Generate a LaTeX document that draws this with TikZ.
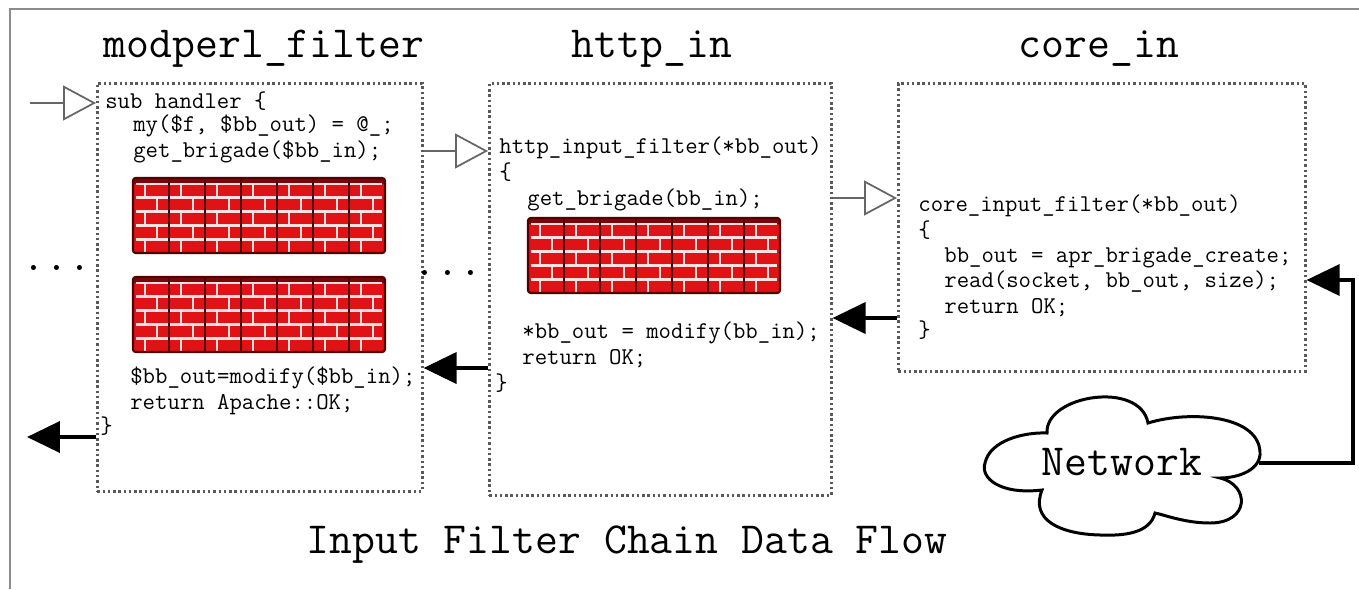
\documentclass[tikz,border=0pt]{standalone}
\usepackage{fontspec}
\usetikzlibrary{arrows.meta,positioning}

\definecolor{brick}{RGB}{224,18,22}
\definecolor{mortar}{RGB}{255,224,224}
\definecolor{brickdark}{RGB}{80,0,0}

\tikzset{
  filterbox/.style={draw=black!65, line width=1.5pt, dash pattern=on 1.4pt off 1.6pt,
    anchor=north west, inner sep=0pt},
  filtername/.style={font=\ttfamily\fontsize{25.3}{30}\selectfont, anchor=base, inner sep=0pt},
  listing/.style={font=\ttfamily\fontsize{13.7}{14.5}\selectfont, align=left,
    anchor=base west, inner sep=0pt},
  handoff/.style={draw=black!60, line width=1pt, -{Triangle[open, length=0.66cm, width=0.7cm]}},
  giveback/.style={draw=black, line width=2.2pt, -{Triangle[length=0.66cm, width=0.62cm]}},
  brigade/.style={fill=brick, rounded corners=1.5pt, minimum width=5.04cm, minimum height=1.5cm,
    anchor=north west, inner sep=0pt}
}

\newcommand\bricks[1]{%
  \begin{scope}[shift={(#1.north west)}, x=1cm, y=1cm]
    \fill[brickdark!70!brick] (0,0) rectangle (5.04,-0.12);
    \foreach \r in {0,...,4} {
      \draw[mortar, line width=1.5pt] (0.05,{-0.12-0.276*\r}) -- (4.99,{-0.12-0.276*\r});
      \foreach \k in {0,...,6}
        \draw[mortar, line width=1.5pt] ({0.72*\k+0.24+0.24*mod(\r,2)},{-0.12-0.276*\r}) -- ++(0,-0.276);
    }
    \foreach \k in {1,...,6}
      \draw[brickdark, line width=1.6pt] (0.72*\k,0) -- (0.72*\k,-1.5);
    \draw[brickdark, line width=1.2pt, rounded corners=1.5pt] (0,0) rectangle (5.04,-1.5);
  \end{scope}}

\begin{document}
\begin{tikzpicture}[x=0.02cm, y=-0.02cm]
    \useasboundingbox (0,0) rectangle (1359,589);
    \draw[black!45, line width=1.2pt] (10,589) -- (10,9) -- (1359,9);

    \node[filterbox, minimum width=6.5cm, minimum height=8.16cm] (modperlbox) at (96,82) {};
    \node[filterbox, minimum width=6.84cm, minimum height=8.24cm] (httpbox) at (488,82) {};
    \node[filterbox, minimum width=8.14cm, minimum height=5.76cm] (corebox) at (897,82) {};

    \node[filtername] (modperlname) at (264,57) {modperl\_filter};
    \node[filtername] (httpname) at (652,57) {http\_in};
    \node[filtername] (corename) at (1099,57) {core\_in};
    \node[filtername] (caption) at (627,553) {Input Filter Chain Data Flow};

    \node[listing] (handlerhead) at (105,108) {sub handler \{};
    \node[listing] (handlerin) at (133,157) {my(\$f, \$bb\_out) = @\_;\\get\_brigade(\$bb\_in);};
    \node[brigade] (brigadeA) at (133,178) {};
    \node[brigade] (brigadeB) at (133,277) {};
    \bricks{brigadeA}
    \bricks{brigadeB}
    \node[listing] (handlerout) at (130,409) {\$bb\_out=modify(\$bb\_in);\\return Apache::OK;};
    \node[listing] (handlerend) at (100,433) {\}};

    \node[listing] (httphead) at (499,179) {http\_input\_filter(*bb\_out)\\\{};
    \node[listing] (httpget) at (527,205) {get\_brigade(bb\_in);};
    \node[brigade] (brigadeC) at (528,218) {};
    \bricks{brigadeC}
    \node[listing] (httpout) at (522,364) {*bb\_out = modify(bb\_in);\\return OK;};
    \node[listing] (httpend) at (495,390) {\}};

    \node[listing] (corehead) at (918,237) {core\_input\_filter(*bb\_out)\\\{};
    \node[listing] (corebody) at (944,313) {bb\_out = apr\_brigade\_create;\\read(socket, bb\_out, size);\\return OK;};
    \node[listing] (coreend) at (918,337) {\}};

    \node[filtername] (moreleft) at (57,270) {...};
    \node[filtername] (moremid) at (448,275) {...};

    \draw[line width=1.7pt] (1047,433) .. controls (1045,395) and (1140,380) .. (1148,423)
      .. controls (1190,410) and (1262,415) .. (1260,455)
      .. controls (1258,472) and (1235,478) .. (1220,478)
      .. controls (1250,485) and (1250,523) .. (1210,523)
      .. controls (1185,523) and (1165,515) .. (1155,513)
      .. controls (1150,533) and (1125,536) .. (1100,535)
      .. controls (1060,534) and (1030,520) .. (1042,490)
      .. controls (1000,495) and (980,478) .. (985,463)
      .. controls (990,440) and (1025,432) .. (1047,433) -- cycle;
    \node[filtername] (network) at (1122,475) {Network};

    \coordinate (feed) at (30,103);
    \coordinate (drain) at (27,437);
    \coordinate (cloudrim) at (1259,463);
    \coordinate (wire) at (1353,280);
    \draw[handoff] (feed) -- (modperlbox.west |- feed);
    \draw[handoff] (modperlbox.east |- 0,151) -- (httpbox.west |- 0,151);
    \draw[handoff] (httpbox.east |- 0,198) -- (corebox.west |- 0,198);
    \draw[giveback] (corebox.west |- 0,318) -- (httpbox.east |- 0,318);
    \draw[giveback] (httpbox.west |- 0,368) -- (modperlbox.east |- 0,368);
    \draw[giveback] (modperlbox.west |- drain) -- (drain);
    \draw[giveback, line width=1.8pt] (cloudrim) -| (wire) -- (corebox.east |- wire);
\end{tikzpicture}
\end{document}
